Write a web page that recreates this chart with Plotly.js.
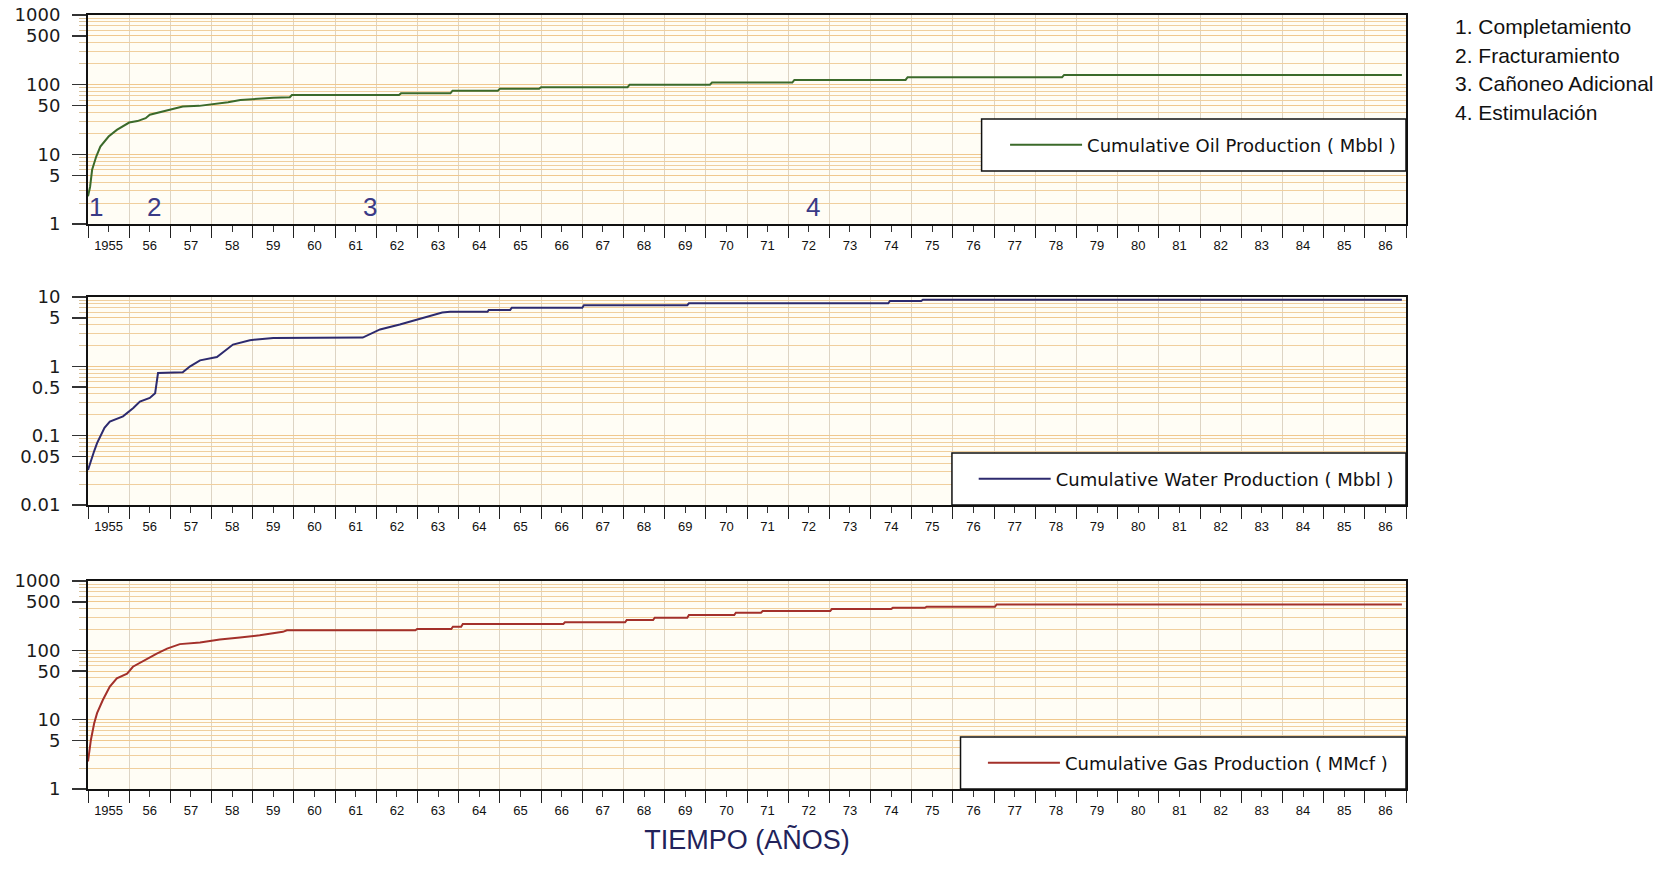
<!DOCTYPE html>
<html><head><meta charset="utf-8">
<script src="https://cdn.plot.ly/plotly-3.0.1.min.js"></script>
<style>html,body{margin:0;padding:0;background:#fff}#chart{width:1673px;height:887px}</style>
</head><body><div id="chart"></div>
<script>
// ---- data ----
const years = [1955,1956,1957,1958,1959,1960,1961,1962,1963,1964,1965,1966,1967,1968,1969,1970,1971,1972,1973,1974,1975,1976,1977,1978,1979,1980,1981,1982,1983,1984,1985,1986];
const yearLabels = ['1955','56','57','58','59','60','61','62','63','64','65','66','67','68','69','70','71','72','73','74','75','76','77','78','79','80','81','82','83','84','85','86'];

const oilYears  = [1955.0,1955.05,1955.1,1955.2,1955.3,1955.5,1955.7,1956.0,1956.2,1956.4,1956.5,1956.8,1957.0,1957.3,1957.7,1958.1,1958.4,1958.7,1959.2,1959.5,1959.9,1959.95,1962.55,1962.6,1963.8,1963.85,1964.95,1965.0,1965.95,1966.0,1968.1,1968.15,1970.1,1970.15,1972.1,1972.15,1974.85,1974.9,1978.65,1978.7,1986.9];
const oilValues = [2.5,3.4,6.0,9.3,12.9,18,22.4,28.6,30,33,37,41,44,48.5,49.6,53,56,60,64,65,66,71,71,75,75,82,82,87,87,92,92,100,100,107,107,117,117,128,128,138,138];

const waterYears  = [1955.0,1955.05,1955.15,1955.22,1955.3,1955.4,1955.53,1955.85,1956.1,1956.26,1956.5,1956.63,1956.7,1957.3,1957.48,1957.72,1958.13,1958.52,1958.93,1959.5,1961.67,1962.09,1962.57,1963.06,1963.37,1963.6,1963.79,1964.7,1964.73,1965.25,1965.29,1967.0,1967.04,1969.55,1969.59,1974.43,1974.47,1975.23,1975.27,1986.9];
const waterValues = [0.032,0.04,0.06,0.078,0.097,0.13,0.16,0.19,0.25,0.31,0.35,0.41,0.80,0.82,1.0,1.22,1.36,2.06,2.38,2.57,2.6,3.4,4.0,4.8,5.5,5.95,6.1,6.1,6.5,6.5,7.0,7.0,7.6,7.6,8.1,8.1,8.75,8.75,9.1,9.1];

const gasYears  = [1955.0,1955.07,1955.15,1955.22,1955.36,1955.53,1955.7,1955.95,1956.09,1956.43,1956.67,1956.92,1957.23,1957.72,1958.2,1958.69,1959.17,1959.73,1959.83,1962.95,1962.99,1963.82,1963.86,1964.06,1964.1,1966.54,1966.58,1968.04,1968.08,1968.72,1968.76,1969.55,1969.59,1970.69,1970.73,1971.34,1971.38,1973.02,1973.06,1974.5,1974.54,1975.32,1975.36,1977.02,1977.06,1986.9];
const gasValues = [2.5,5.1,8.9,12.4,19.2,30,39.4,46,58,76,90,106,123,130,143,153,165,185,195,195,203,203,219,219,240,240,254,254,273,273,295,295,323,323,349,349,369,369,394,394,410,410,425,425,460,460];

const seriesNames = ['Cumulative Oil Production ( Mbbl )','Cumulative Water Production ( Mbbl )','Cumulative Gas Production ( MMcf )'];
const seriesColors = ['#3b6a2a','#2d2a6e','#a3302a'];

const eventYears   = [1955.2,1956.6,1961.85,1972.6];
const eventNumbers = ['1','2','3','4'];
const eventNames   = ['Completamiento','Fracturamiento','Cañoneo Adicional','Estimulación'];

const bigTickVals = [1,5,10,50,100,500,1000];
const bigTickText = ['1','5','10','50','100','500','1000'];
const smallTickVals = [0.01,0.05,0.1,0.5,1,5,10];
const smallTickText = ['0.01','0.05','0.1','0.5','1','5','10'];

// ---- helpers ----
function gridVals(lo, hi){ // 2..9 x 10^n gridline positions
  const out=[];
  for(let e=lo;e<hi;e++){ for(let m=2;m<=9;m++){ out.push(m*Math.pow(10,e)); } }
  return out;
}
const tickFont = {family:'DejaVu Sans, Verdana, sans-serif', size:18, color:'#1a1a1a'};
const xTickFont = {family:'Liberation Sans Narrow, Liberation Sans, Arial, sans-serif', size:13, color:'#111'};
const gridTan = '#f0cf9e';
const gridV = '#ddd4c4';

function xAxis(anchor, extra){
  return Object.assign({
    anchor: anchor, domain:[0,1], range:[1955,1987],
    tickmode:'array', tickvals: years.map(y=>y+0.5), ticktext: yearLabels,
    ticks:'outside', ticklen:6, tickwidth:1, tickcolor:'#333',
    showgrid:false, tickfont:xTickFont, ticklabelstandoff:2,
    showline:true, mirror:true, linecolor:'#111', linewidth:2,
    minor:{tickmode:'linear', tick0:1955, dtick:1, ticks:'outside', ticklen:12, tickwidth:1, tickcolor:'#222', showgrid:true, gridcolor:gridV, gridwidth:1},
    fixedrange:true
  }, extra||{});
}
function yAxis(anchor, domain, range, tv, tt, lo, hi){
  return {
    anchor: anchor, domain: domain, type:'log', range: range,
    tickmode:'array', tickvals: tv, ticktext: tt,
    ticks:'outside', ticklen:14, tickwidth:1.5, tickcolor:'#333',
    showgrid:true, gridcolor:'#f0c88e', gridwidth:1,
    tickfont: tickFont, ticklabelstandoff:8,
    showline:true, mirror:true, linecolor:'#111', linewidth:2,
    minor:{tickmode:'array', tickvals: gridVals(lo,hi), ticks:'outside', ticklen:7, tickwidth:1, tickcolor:'#d9c29a', showgrid:true, gridcolor:gridTan, gridwidth:1},
    fixedrange:true
  };
}

const traces = [
  {x: oilYears, y: oilValues, name: seriesNames[0], type:'scatter', mode:'lines', line:{color:seriesColors[0], width:2}, xaxis:'x', yaxis:'y', legend:'legend'},
  {x: waterYears, y: waterValues, name: seriesNames[1], type:'scatter', mode:'lines', line:{color:seriesColors[1], width:2}, xaxis:'x2', yaxis:'y2', legend:'legend2'},
  {x: gasYears, y: gasValues, name: seriesNames[2], type:'scatter', mode:'lines', line:{color:seriesColors[2], width:2}, xaxis:'x3', yaxis:'y3', legend:'legend3'}
];

const legendFont = {family:'DejaVu Sans, Verdana, sans-serif', size:18, color:'#111'};
function legendAt(x, y){
  return {x:x, y:y, xanchor:'left', yanchor:'middle', bgcolor:'rgba(0,0,0,0)', borderwidth:0, font:legendFont, itemwidth:72};
}

const boxLine = {color:'#111', width:1.5};
const shapes = [
  {type:'rect', xref:'x domain', yref:'y domain', x0:0.678, x1:1, y0:0.254, y1:0.502, fillcolor:'#fff', line:boxLine, layer:'above'},
  {type:'rect', xref:'x2 domain', yref:'y2 domain', x0:0.6555, x1:1, y0:0, y1:0.25, fillcolor:'#fff', line:boxLine, layer:'above'},
  {type:'rect', xref:'x3 domain', yref:'y3 domain', x0:0.662, x1:1, y0:0, y1:0.25, fillcolor:'#fff', line:boxLine, layer:'above'}
];

const annotations = eventYears.map((yr,i)=>({
  x: yr, y: 0.25, xref:'x', yref:'y', text: eventNumbers[i], showarrow:false,
  xanchor:'center', yanchor:'middle',
  font:{family:'Liberation Sans, Arial, sans-serif', size:26, color:'#3a3a86'}
}));
// numbered list at the right (one line per event, 28.5 px apart)
eventNames.forEach((n,i)=>{
  annotations.push({
    xref:'paper', yref:'paper', x:1.036, y:0.9849 - i*(28.5/774), xanchor:'left', yanchor:'middle', align:'left', showarrow:false,
    text: eventNumbers[i] + '. ' + n,
    font:{family:'Liberation Sans, Arial, sans-serif', size:21, color:'#111'}
  });
});

const layout = {
  width:1673, height:887,
  margin:{l:88, r:267, t:15, b:98},
  paper_bgcolor:'#ffffff', plot_bgcolor:'#fffdf5',
  showlegend:true,
  xaxis: xAxis('y'),
  xaxis2: xAxis('y2'),
  xaxis3: xAxis('y3', {title:{text:'TIEMPO (AÑOS)', font:{family:'Liberation Sans, Arial, sans-serif', size:27, color:'#22225a'}, standoff:14}}),
  yaxis: yAxis('x', [0.730,1], [0,3], bigTickVals, bigTickText, 0, 3),
  yaxis2: yAxis('x2', [0.3669,0.6357], [-2,1], smallTickVals, smallTickText, -2, 1),
  yaxis3: yAxis('x3', [0,0.2687], [0,3], bigTickVals, bigTickText, 0, 3),
  legend: legendAt(0.6958, 0.832),
  legend2: legendAt(0.672, 0.4005),
  legend3: legendAt(0.679, 0.0336),
  shapes: shapes,
  annotations: annotations
};

Plotly.newPlot('chart', traces, layout, {displayModeBar:false, staticPlot:true});
</script>
</body></html>
